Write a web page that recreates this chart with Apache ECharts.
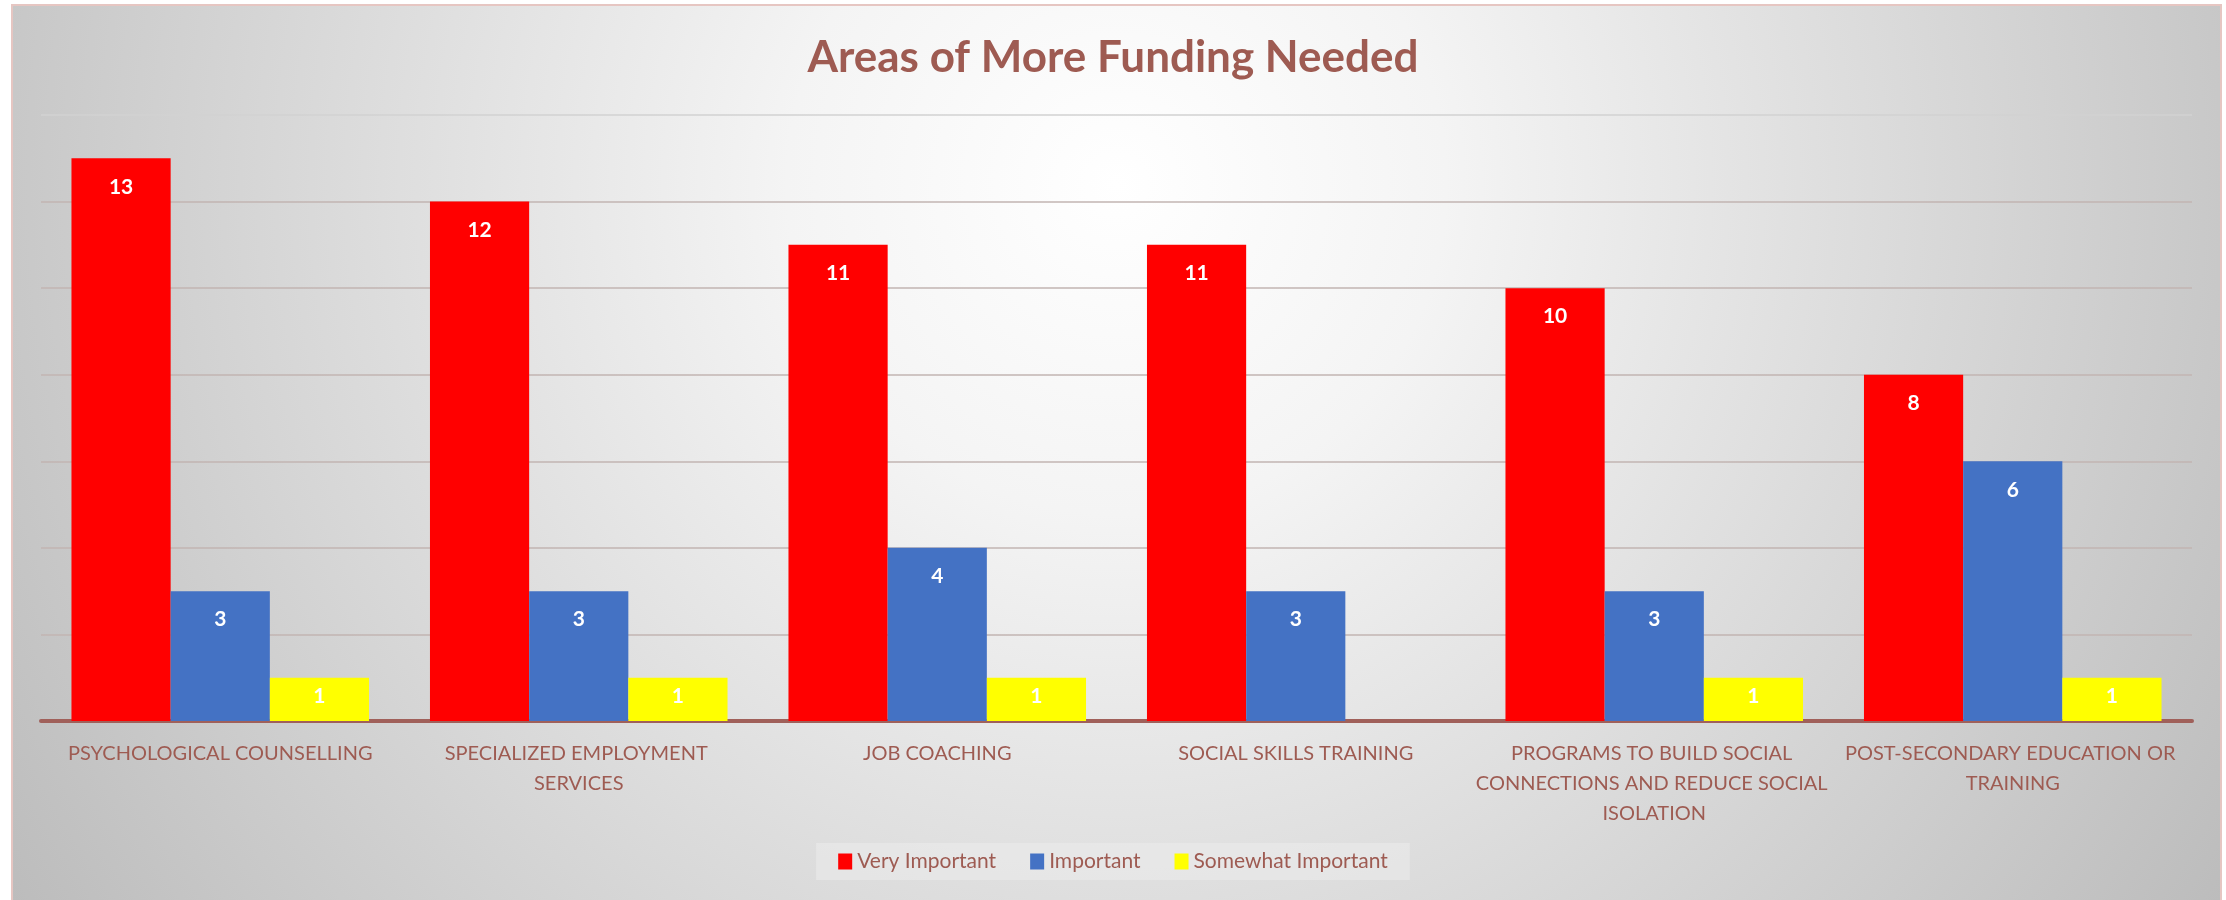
<!DOCTYPE html>
<html>
<head>
<meta charset="utf-8">
<script src="https://cdn.jsdelivr.net/npm/echarts@6/dist/echarts.min.js"></script>
<style>
  html, body { margin: 0; padding: 0; background: #ffffff; }
  #chart { width: 2226px; height: 900px; }
</style>
</head>
<body>
<div id="chart"></div>
<script>
const titleText = 'Areas of More Funding Needed';
const categories = [
  'PSYCHOLOGICAL COUNSELLING',
  'SPECIALIZED EMPLOYMENT SERVICES',
  'JOB COACHING',
  'SOCIAL SKILLS TRAINING',
  'PROGRAMS TO BUILD SOCIAL CONNECTIONS AND REDUCE SOCIAL ISOLATION',
  'POST-SECONDARY EDUCATION OR TRAINING'
];
const seriesNames = ['Very Important', 'Important', 'Somewhat Important'];
const veryImportant = [13, 12, 11, 11, 10, 8];
const important = [3, 3, 4, 3, 3, 6];
const somewhatImportant = [1, 1, 1, null, 1, 1];
const yMin = 0, yMax = 14, yStep = 2;

const textColor = '#9e5b52';
const labelFont = 'Lato, "Open Sans", sans-serif';

const chart = echarts.init(document.getElementById('chart'), null, { renderer: 'canvas' });

function barSeries(name, data, color, dist) {
  return {
    name: name,
    type: 'bar',
    data: data,
    barGap: '0%',
    barCategoryGap: '17%',
    itemStyle: { color: color },
    label: {
      show: true,
      position: 'insideTop',
      distance: dist,
      color: '#ffffff',
      fontWeight: 'bold',
      fontSize: 21,
      fontFamily: labelFont
    }
  };
}

const gridColors = ['#c2b4b2', '#c2b4b2', '#c2b4b2', '#c2b4b2', '#c2b4b2', '#c2b4b2', '#c2b4b2', '#d2d2d2'];

chart.setOption({
  backgroundColor: '#ffffff',
  animation: false,
  graphic: [
    {
      type: 'rect',
      z: -100,
      silent: true,
      shape: { x: 12, y: 5, width: 2209, height: 900 },
      style: {
        fill: new echarts.graphic.RadialGradient(0.5, 0.2, 1.46, [
          { offset: 0, color: '#ffffff' },
          { offset: 0.25, color: '#f4f4f4' },
          { offset: 1, color: '#bcbcbc' }
        ]),
        stroke: '#e6c6c2',
        lineWidth: 2
      }
    }
  ],
  title: {
    text: titleText,
    left: 'center',
    top: 31,
    textStyle: {
      color: textColor,
      fontSize: 44,
      fontWeight: 'bold',
      fontFamily: labelFont
    }
  },
  legend: {
    data: seriesNames,
    left: 'center',
    top: 843,
    icon: 'rect',
    itemWidth: 14,
    itemHeight: 16,
    itemGap: 34,
    padding: [8, 22],
    backgroundColor: 'rgba(240,240,240,0.45)',
    textStyle: { color: textColor, fontSize: 21, fontFamily: labelFont }
  },
  grid: { left: 41, right: 34, top: 115, bottom: 179, containLabel: false },
  xAxis: {
    type: 'category',
    data: categories,
    axisTick: { show: false },
    axisLine: { show: true, lineStyle: { color: '#a0605a', width: 4 } },
    axisLabel: {
      color: textColor,
      fontSize: 20,
      fontFamily: labelFont,
      margin: 18,
      lineHeight: 30,
      width: 358,
      overflow: 'break',
      interval: 0,
      align: 'center'
    }
  },
  yAxis: {
    type: 'value',
    min: yMin,
    max: yMax,
    interval: yStep,
    axisLabel: { show: false },
    axisLine: { show: false },
    axisTick: { show: false },
    splitLine: { show: true, lineStyle: { color: gridColors, width: 1.5 } }
  },
  series: [
    barSeries(seriesNames[0], veryImportant, '#ff0000', 18),
    barSeries(seriesNames[1], important, '#4472c4', 18),
    barSeries(seriesNames[2], somewhatImportant, '#ffff00', 8)
  ]
});
</script>
</body>
</html>
